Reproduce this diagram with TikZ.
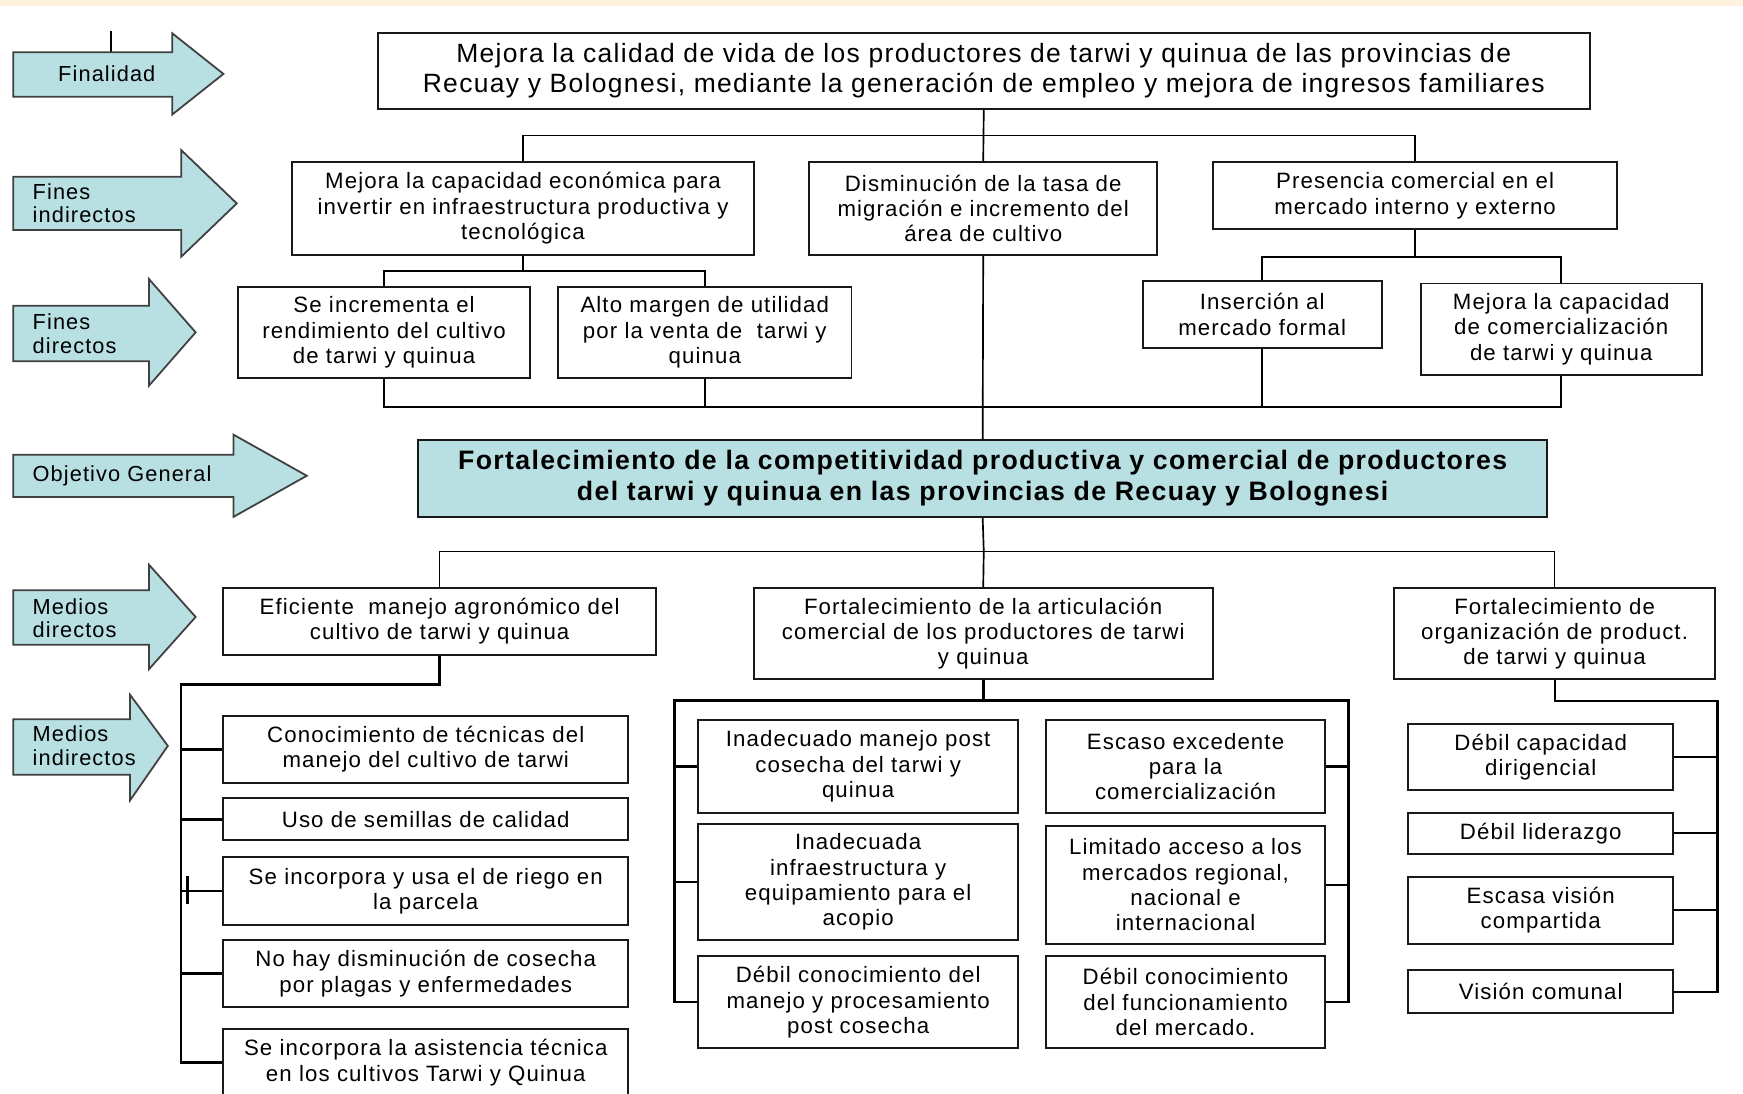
\documentclass[tikz,border=0pt]{standalone}
\usepackage{fontspec}
\setmainfont{Liberation Sans}[LetterSpace=5]
\usetikzlibrary{calc}
\definecolor{tealfill}{RGB}{184,223,226}
\definecolor{bandcol}{RGB}{255,242,222}
\definecolor{edgecol}{RGB}{25,25,25}
\tikzset{
  boxst/.style={draw=edgecol, line width=0.85pt, fill=white, inner sep=0pt, align=center,
    font=\fontsize{10}{11.4}\selectfont},
  conn/.style={line width=0.75pt, draw=black},
  connthick/.style={line width=1.15pt, draw=black},
  connmed/.style={line width=0.95pt, draw=black},
  arrowshape/.style={draw=black!75, line width=0.8pt, fill=tealfill},
  lbl/.style={inner sep=0pt, align=left, anchor=west, font=\fontsize{9.8}{10.6}\selectfont},
}
\newcommand\mybox[7][]{\node[boxst,#1, minimum width={(#5-#3)*0.5pt}, minimum height={(#6-#4)*0.5pt}] (#2) at ({(#3+#5)/2},{(#4+#6)/2}) {#7};}
\newcommand\myarrow[8]{\draw[arrowshape] (#1,#2) -- (#4,#2) -- (#4,#5) -- (#7,#8) -- (#4,#6) -- (#4,#3) -- (#1,#3) -- cycle;}
\begin{document}
\begin{tikzpicture}[x=0.5pt,y=-0.5pt]
\useasboundingbox (0,0) rectangle (1568,984);
\clip (0,0) rectangle (1568,984);
\fill[white] (0,0) rectangle (1568,984);
\fill[bandcol] (0,0) rectangle (1568,5);

% ---- left arrows
\draw[line width=0.8pt] (100,28) -- (100,47);
\myarrow{12}{47}{87}{155}{30}{103}{201}{66.5}
\myarrow{12}{159}{207}{163}{135}{231}{213}{183}
\myarrow{12}{275}{325}{134}{251}{347}{176}{299}
\myarrow{12}{409}{447}{210}{391}{465}{276}{428}
\myarrow{12}{531}{580}{134}{508}{602}{176}{555}
\myarrow{12}{647}{697}{117}{625}{720}{151}{671}
\node[lbl] (lfin) at (52,66) {Finalidad};
\node[lbl] (lfi) at (29,183) {Fines\\indirectos};
\node[lbl] (lfd) at (29,300) {Fines\\directos};
\node[lbl] (lobj) at (29,428) {Objetivo General};
\node[lbl] (lmd) at (29,556) {Medios\\directos};
\node[lbl] (lmi) at (29,671) {Medios\\indirectos};

% ---- boxes
\mybox[font=\fontsize{11.9}{13.5}\selectfont]{top}{340}{30}{1430}{98}{Mejora la calidad de vida de los productores de tarwi y quinua de las provincias de\\Recuay y Bolognesi, mediante la generación de empleo y mejora de ingresos familiares}
\mybox{fi1}{263}{146}{678}{229}{Mejora la capacidad económica para\\invertir en infraestructura productiva y\\tecnológica}
\mybox{fi2}{728}{146}{1041}{229}{Disminución de la tasa de\\migración e incremento del\\área de cultivo}
\mybox{fi3}{1091}{146}{1455}{206}{Presencia comercial en el\\mercado interno y externo}
\mybox{fd1}{214}{258}{477}{340}{Se incrementa el\\rendimiento del cultivo\\de tarwi y quinua}
\mybox{fd2}{502}{258}{766}{340}{Alto margen de utilidad\\por la venta de\ \ tarwi y\\quinua}
\mybox{fd3}{1028}{253}{1243}{313}{Inserción al\\mercado formal}
\mybox{fd4}{1278}{255}{1531}{337}{Mejora la capacidad\\de comercialización\\de tarwi y quinua}
\mybox[fill=tealfill, font=\fontsize{12}{14}\selectfont\bfseries]{obj}{376}{396}{1392}{465}{Fortalecimiento de la competitividad productiva y comercial de productores\\del tarwi y quinua en las provincias de Recuay y Bolognesi}
\mybox{md1}{201}{529}{590}{589}{Eficiente\ \ manejo agronómico del\\cultivo de tarwi y quinua}
\mybox{md2}{678}{529}{1091}{611}{Fortalecimiento de la articulación\\comercial de los productores de tarwi\\y quinua}
\mybox{md3}{1254}{529}{1543}{611}{Fortalecimiento de\\organización de product.\\de tarwi y quinua}

\mybox{mi1}{201}{644}{565}{704}{Conocimiento de técnicas del\\manejo del cultivo de tarwi}
\mybox{mi2}{201}{718}{565}{756}{Uso de semillas de calidad}
\mybox{mi3}{201}{771}{565}{832}{Se incorpora y usa el de riego en\\la parcela}
\mybox{mi4}{201}{846}{565}{906}{No hay disminución de cosecha\\por plagas y enfermedades}
\mybox{mi5}{201}{926}{565}{986}{Se incorpora la asistencia técnica\\en los cultivos Tarwi y Quinua}

\mybox{ma1}{628}{648}{916}{731}{Inadecuado manejo post\\cosecha del tarwi y\\quinua}
\mybox{ma2}{628}{741}{916}{846}{Inadecuada\\infraestructura y\\equipamiento para el\\acopio}
\mybox{ma3}{628}{860}{916}{943}{Débil conocimiento del\\manejo y procesamiento\\post cosecha}
\mybox{mb1}{941}{648}{1192}{731}{Escaso excedente\\para la\\comercialización}
\mybox{mb2}{941}{743}{1192}{849}{Limitado acceso a los\\mercados regional,\\nacional e\\internacional}
\mybox{mb3}{941}{860}{1192}{943}{Débil conocimiento\\del funcionamiento\\del mercado.}

\mybox{mc1}{1267}{651}{1505}{711}{Débil capacidad\\dirigencial}
\mybox{mc2}{1267}{731}{1505}{768}{Débil liderazgo}
\mybox{mc3}{1267}{789}{1505}{849}{Escasa visión\\compartida}
\mybox{mc4}{1267}{873}{1505}{911}{Visión comunal}

% ---- connectors (upper part)
\coordinate (h1) at (885,122);
\coordinate (h2) at (471,244);
\coordinate (h3) at (1273,231);
\coordinate (h4) at (885,366);
\coordinate (h5) at (885,496);
\draw[conn] (top.south) -- (fi2.north);
\draw[conn] (fi1.north) |- (h1) -| (fi3.north);
\draw[conn] (fi1.south) -- (fi1.south |- h2);
\draw[conn] (fd1.north) |- (fi1.south |- h2) -| (fd2.north);
\draw[conn] (fi3.south) -- (fi3.south |- h3);
\draw[conn] (fd3.north) |- (fi3.south |- h3) -| (fd4.north);
\draw[conn] (fi2.south) -- (obj.north);
\draw[conn] (fd1.south) |- (h4) -| (fd4.south);
\draw[conn] (fd2.south) -- (fd2.south |- h4);
\draw[conn] (fd3.south) -- (fd3.south |- h4);

% ---- connectors (lower part)
\draw[conn] (obj.south) -- (h5);
\draw[conn] (md1.north) |- (h5) -| (md3.north);
\draw[conn] (h5) -- (md2.north);

\coordinate (s1) at (163,616);
\draw[connthick] (md1.south) |- (s1) |- (mi5.west);
\draw[connthick] (s1 |- mi1.west) -- (mi1.west);
\draw[connthick] (s1 |- mi2.west) -- (mi2.west);
\draw[connthick] (s1 |- mi3.west) -- (mi3.west);
\draw[connthick] (s1 |- mi4.west) -- (mi4.west);
\draw[line width=1.4pt] (169,788) -- (169,813);

\coordinate (s2) at (607,630);
\coordinate (s3) at (1213,630);
\draw[connthick] (md2.south) -- (md2.south |- s2);
\draw[connthick] (ma3.west) -| (s2) -- (s3) |- (mb3.east);
\draw[connthick] (s2 |- ma1.west) -- (ma1.west);
\draw[connthick] (s2 |- ma2.west) -- (ma2.west);
\draw[connthick] (s3 |- mb1.east) -- (mb1.east);
\draw[connthick] (s3 |- mb2.east) -- (mb2.east);

\coordinate (s4) at (1545,631);
\draw[connmed] (md3.south) |- (s4) |- (mc4.east);
\draw[connmed] (s4 |- mc1.east) -- (mc1.east);
\draw[connmed] (s4 |- mc2.east) -- (mc2.east);
\draw[connmed] (s4 |- mc3.east) -- (mc3.east);
\end{tikzpicture}
\end{document}
